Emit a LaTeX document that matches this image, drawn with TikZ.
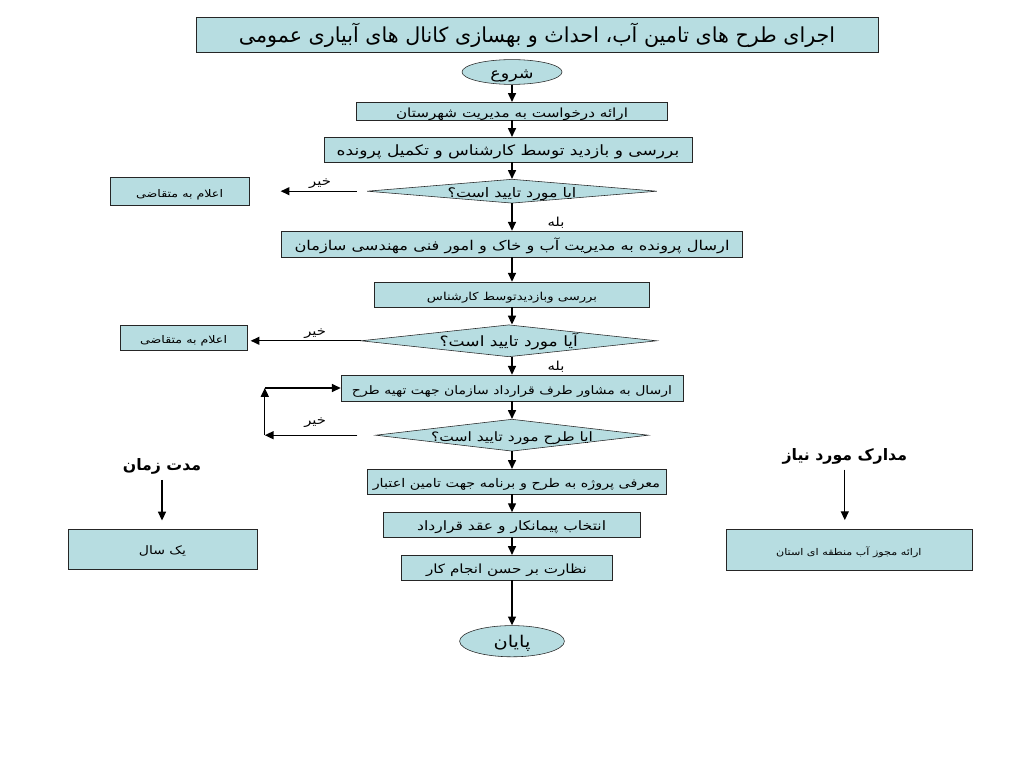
\documentclass[tikz,border=0pt]{standalone}
\usepackage{fontspec}
\usepackage{xcolor}
\usepackage{tikz}
\usetikzlibrary{arrows.meta, shapes.geometric}
\TeXXeTstate=1
\newfontfamily\fa[Script=Arabic]{DejaVu Sans}
\newfontfamily\fawide[Script=Arabic, FakeStretch=1.2]{DejaVu Sans}
\newcommand{\fatext}[1]{\beginR #1\endR}
\newcommand{\fadecide}[1]{\makebox[0pt]{\beginR #1\endR}}
\definecolor{boxblue}{RGB}{183,221,225}

\begin{document}
\begin{tikzpicture}[
        proc/.style={rectangle, draw=black!85, fill=boxblue, inner sep=0pt, text height=9.3pt, text depth=0.7pt, font=\fawide\fontsize{#1}{#1}\selectfont},
        proc/.default=8,
        check/.style={diamond, aspect=10, draw=black!85, fill=boxblue, inner sep=0pt, text height=9.3pt, text depth=0.7pt, font=\fawide\fontsize{#1}{#1}\selectfont},
        check/.default=9,
        term/.style={ellipse, draw=black!85, fill=boxblue, inner sep=0pt, text height=9.3pt, text depth=0.7pt, font=\fawide\fontsize{#1}{#1}\selectfont},
        note/.style={inner sep=1pt, font=\fawide\fontsize{8.8}{10}\selectfont},
        head/.style={inner sep=1pt, font=\fa\bfseries\fontsize{11.2}{13}\selectfont},
        arrow/.style={-{Triangle[length=2.2mm, width=2mm]}, line width=0.9pt}
    ]
        \useasboundingbox (0,0) rectangle (25.6,-19.2);

        % Title
        \node[rectangle, draw=black!85, fill=boxblue, minimum width=17.05cm, minimum height=0.875cm, text height=12pt, text depth=1pt, font=\fa\fontsize{14.7}{16}\selectfont] (title) at (13.425,-0.86) {\fatext{اجرای طرح های تامین آب، احداث و بهسازی کانال های آبیاری عمومی}};

        % Main column
        \node[term=10.4, minimum width=2.5cm, minimum height=0.62cm] (start) at (12.8,-1.8) {\fatext{شروع}};
        \node[proc=9, minimum width=7.78cm, minimum height=0.45cm] (req) at (12.8,-2.78) {\fatext{ارائه درخواست به مدیریت شهرستان}};
        \node[proc=10.1, minimum width=9.2cm, minimum height=0.62cm] (visit) at (12.7,-3.74) {\fatext{بررسی و بازدید توسط کارشناس و تکمیل پرونده}};
        \node[check=9.4, minimum width=7.25cm, minimum height=0.6cm] (okone) at (12.8,-4.78) {\fadecide{ایا مورد تایید است؟}};
        \node[proc=9.6, minimum width=11.52cm, minimum height=0.65cm] (send) at (12.8,-6.1) {\fatext{ارسال پرونده به مدیریت آب و خاک و امور فنی مهندسی سازمان}};
        \node[proc=7.8, minimum width=6.88cm, minimum height=0.62cm] (expert) at (12.8,-7.36) {\fatext{بررسی وبازدیدتوسط کارشناس}};
        \node[check=10.1, minimum width=7.4cm, minimum height=0.8cm] (oktwo) at (12.72,-8.52) {\fadecide{آیا مورد تایید است؟}};
        \node[proc=8.3, minimum width=8.55cm, minimum height=0.65cm] (plan) at (12.8,-9.7) {\fatext{ارسال به مشاور طرف قرارداد سازمان جهت تهیه طرح}};
        \node[check=9.2, minimum width=6.82cm, minimum height=0.8cm] (okplan) at (12.8,-10.88) {\fadecide{ایا طرح مورد تایید است؟}};
        \node[proc=8.5, minimum width=7.48cm, minimum height=0.62cm] (fund) at (12.91,-12.04) {\fatext{معرفی پروژه به طرح و برنامه جهت تامین اعتبار}};
        \node[proc=9.2, minimum width=6.43cm, minimum height=0.62cm] (contract) at (12.79,-13.12) {\fatext{انتخاب پیمانکار و عقد قرارداد}};
        \node[proc=9, minimum width=5.28cm, minimum height=0.62cm] (watch) at (12.66,-14.19) {\fatext{نظارت بر حسن انجام کار}};
        \node[term=11.5, minimum width=2.62cm, minimum height=0.78cm] (finish) at (12.8,-16.03) {\fatext{پایان}};

        \draw[arrow] (start.south -| start) -- (req.north -| start);
        \draw[arrow] (req.south -| start) -- (visit.north -| start);
        \draw[arrow] (visit.south -| start) -- (okone.north -| start);
        \draw[arrow] (okone.south -| start) -- (send.north -| start);
        \draw[arrow] (send.south -| start) -- (expert.north -| start);
        \draw[arrow] (expert.south -| start) -- (oktwo.north -| start);
        \draw[arrow] (oktwo.south -| start) -- (plan.north -| start);
        \draw[arrow] (plan.south -| start) -- (okplan.north -| start);
        \draw[arrow] (okplan.south -| start) -- (fund.north -| start);
        \draw[arrow] (fund.south -| start) -- (contract.north -| start);
        \draw[arrow] (contract.south -| start) -- (watch.north -| start);
        \draw[arrow] (watch.south -| start) -- (finish.north -| start);

        \node[note] (yesone) at (13.9,-5.57) {\fatext{بله}};
        \node[note] (yestwo) at (13.9,-9.16) {\fatext{بله}};

        % Rejections
        \node[proc=7.5, minimum width=3.48cm, minimum height=0.68cm] (rejone) at (4.49,-4.78) {\fatext{اعلام به متقاضی}};
        \draw[arrow, shorten <=0.25cm, shorten >=0.78cm] (okone.west) -- (rejone.east);
        \node[note] (noone) at (8.0,-4.6) {\fatext{خیر}};

        \node[proc=7.5, minimum width=3.18cm, minimum height=0.62cm] (rejtwo) at (4.59,-8.44) {\fatext{اعلام به متقاضی}};
        \draw[arrow, shorten >=0.08cm] (oktwo.west) -- (oktwo.west -| rejtwo.east);
        \node[note] (notwo) at (7.88,-8.33) {\fatext{خیر}};

        % Plan loop
        \coordinate (loopa) at (6.62,-10.88);
        \coordinate (loopb) at (6.62,-9.7);
        \draw[arrow, shorten <=0.45cm] (okplan.west) -- (loopa);
        \draw[arrow] (loopa) -- (loopb);
        \draw[arrow] (loopb) -- (plan.west);
        \node[note] (nothree) at (7.88,-10.56) {\fatext{خیر}};

        % Side notes
        \node[head] (timehead) at (4.05,-11.66) {\fatext{مدت زمان}};
        \node[proc=8.3, minimum width=4.72cm, minimum height=1.0cm] (time) at (4.06,-13.72) {\fatext{یک سال}};
        \draw[arrow, shorten <=0.1cm, shorten >=0.2cm] (timehead.south) -- (timehead.south |- time.north);

        \node[head] (dochead) at (21.12,-11.4) {\fatext{مدارک مورد نیاز}};
        \node[proc=6.6, minimum width=6.15cm, minimum height=1.02cm] (doc) at (21.22,-13.74) {\fatext{ارائه مجوز آب منطقه ای استان}};
        \draw[arrow, shorten <=0.1cm, shorten >=0.22cm] (dochead.south) -- (dochead.south |- doc.north);
    \end{tikzpicture}
\end{document}
